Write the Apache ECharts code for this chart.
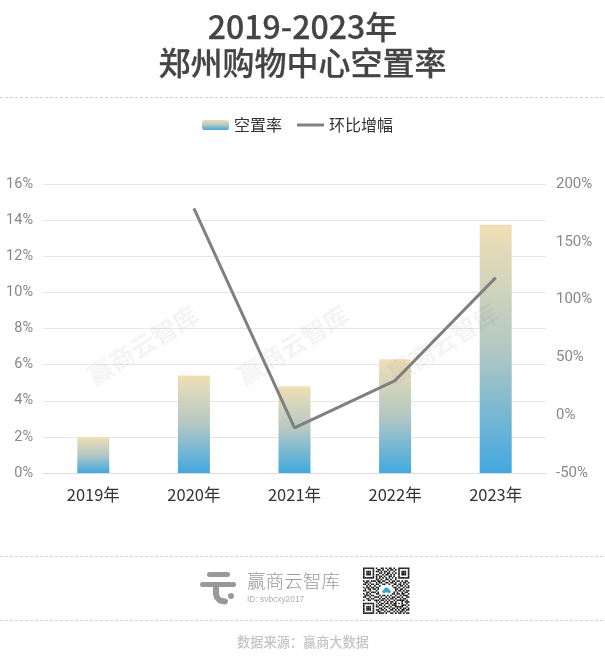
<!DOCTYPE html>
<html lang="zh-CN">
<head>
    <meta charset="UTF-8">
    <title>2019-2023年郑州购物中心空置率</title>
    <style>
        html, body { margin: 0; padding: 0; background: #ffffff; }
    </style>
</head>

<body>
<div id="main" style="height: 657px;width:605px;"></div>

<script src="https://cdn.jsdelivr.net/npm/echarts@6/dist/echarts.min.js"></script>
<script>
    var years = ['2019年', '2020年', '2021年', '2022年', '2023年'];
    var vacancy = [2.0, 5.4, 4.8, 6.3, 13.75];
    var growth = ['-', 179, -11, 30, 119];

    var titleLines = ['2019-2023年', '郑州购物中心空置率'];
    var source = '数据来源：赢商大数据';
    var brand = '赢商云智库';
    var brandId = 'ID: svbcxy2017';

    // decorative code block beside the brand name
    var qrRows = [
        '11111110100110101101001111111',
        '10000010011010010110101000001',
        '10111010110101101001001011101',
        '10111010001101011010101011101',
        '10111010110010110101001011101',
        '10000010101101001101001000001',
        '11111110101010101010101111111',
        '00000000110100110100100000000',
        '10110111011011001011011010110',
        '01101000101100110110100101101',
        '11010110110011001001101101010',
        '00101001001000000010010110101',
        '10110110110000000001101001011',
        '01011011010000000000110110100',
        '11001000100000000000101101011',
        '00110111010000000001010010110',
        '10101000110000000011011011001',
        '01110110001011010100100101110',
        '11001001110100101011011010011',
        '00110110001011010110100101100',
        '10011001110110101001011111010',
        '00000000101001010110100010111',
        '11111110010110110101101010010',
        '10000010101101001011100011101',
        '10111010110010110100111110010',
        '10111010001101001011010101101',
        '10111010110110100110101011011',
        '10000010011001011001010110100',
        '11111110101110100110101101011'
    ];

    var chart = echarts.init(document.querySelector('#main'));
    var cjk = '"Noto Sans CJK SC"';

    var graphics = [];

    function dashLine(y) {
        graphics.push({
            type: 'line',
            silent: true,
            shape: {x1: 0, y1: y, x2: 605, y2: y},
            style: {stroke: '#d4d4d4', lineWidth: 1, lineDash: [3, 2]}
        });
    }
    dashLine(97.5);
    dashLine(556.5);
    dashLine(620.5);

    titleLines.forEach(function (line, i) {
        graphics.push({
            type: 'text',
            silent: true,
            x: 302.5,
            y: 27 + i * 36,
            style: {
                text: line,
                fill: '#444444',
                stroke: '#444444',
                lineWidth: 0.25,
                font: '500 32px ' + cjk,
                align: 'center',
                verticalAlign: 'middle'
            }
        });
    });

    // watermarks over the plot
    [[143, 345], [293, 345], [443, 343]].forEach(function (p) {
        graphics.push({
            type: 'text',
            silent: true,
            z: 100,
            x: p[0],
            y: p[1],
            rotation: 32 * Math.PI / 180,
            style: {
                text: brand,
                fill: 'rgba(120,120,120,0.08)',
                font: 'bold 25px ' + cjk,
                align: 'center',
                verticalAlign: 'middle'
            }
        });
    });

    // brand logo
    graphics.push(
        {type: 'rect', silent: true, shape: {x: 207, y: 572, width: 23, height: 5, r: 2.5}, style: {fill: '#999999'}},
        {type: 'rect', silent: true, shape: {x: 200, y: 582, width: 36, height: 5, r: 2.5}, style: {fill: '#999999'}},
        {
            type: 'polyline',
            silent: true,
            shape: {points: [[216, 587], [216, 594], [217, 597.5], [220, 600.5], [225, 601.5]]},
            style: {stroke: '#999999', fill: null, lineWidth: 6, lineCap: 'round', lineJoin: 'round'}
        },
        {type: 'circle', silent: true, shape: {cx: 231, cy: 596, r: 3}, style: {fill: '#999999'}},
        {
            type: 'text',
            silent: true,
            x: 247,
            y: 581,
            style: {
                text: brand,
                fill: '#999999',
                font: '300 18.6px ' + cjk,
                verticalAlign: 'middle'
            }
        },
        {
            type: 'text',
            silent: true,
            x: 247,
            y: 600,
            style: {
                text: brandId,
                fill: '#b0b0b0',
                font: '8.4px "Liberation Sans"',
                verticalAlign: 'middle'
            }
        }
    );

    qrRows.forEach(function (row, r) {
        row.split('').forEach(function (c, k) {
            if (c === '1') {
                graphics.push({
                    type: 'rect',
                    silent: true,
                    shape: {x: 363 + k * 1.6, y: 567.5 + r * 1.6, width: 1.6, height: 1.6},
                    style: {fill: '#1a1a1a'}
                });
            }
        });
    });
    // small cloud in the middle of the code
    [[384, 591.5, 1.8], [386.5, 590, 2.5], [389, 591.5, 1.8]].forEach(function (c) {
        graphics.push({
            type: 'circle',
            silent: true,
            shape: {cx: c[0], cy: c[1], r: c[2]},
            style: {fill: '#3f9fd8'}
        });
    });

    graphics.push({
        type: 'text',
        silent: true,
        x: 303,
        y: 642,
        style: {
            text: source,
            fill: '#c4c4c4',
            font: '500 13.2px ' + cjk,
            align: 'center',
            verticalAlign: 'middle'
        }
    });

    var option = {
        animation: false,
        backgroundColor: '#ffffff',
        textStyle: {fontFamily: cjk},
        grid: {left: 43, right: 59, top: 184, bottom: 184, containLabel: false},
        legend: {
            top: 112,
            left: 197,
            itemWidth: 27,
            itemHeight: 10,
            itemGap: 15,
            textStyle: {color: '#333333', fontSize: 16, fontFamily: cjk},
            data: [
                {name: '空置率'},
                {name: '环比增幅', icon: 'path://M0,0 H27 V3 H0 Z'}
            ]
        },
        xAxis: {
            type: 'category',
            data: years,
            axisTick: {show: false},
            axisLine: {lineStyle: {color: '#dcdcdc', width: 1}},
            axisLabel: {color: '#333333', fontSize: 16.5, fontFamily: cjk, margin: 13}
        },
        yAxis: [{
            type: 'value',
            min: 0,
            max: 16,
            interval: 2,
            axisLine: {show: false},
            axisTick: {show: false},
            axisLabel: {
                formatter: '{value}%',
                color: '#888888',
                fontSize: 14.5,
                fontFamily: 'Roboto',
                margin: 10,
                padding: [3, 0, 0, 0]
            },
            splitLine: {lineStyle: {color: '#e6e6e6', width: 1}}
        }, {
            type: 'value',
            min: -50,
            max: 200,
            interval: 50,
            axisLine: {show: false},
            axisTick: {show: false},
            axisLabel: {
                formatter: '{value}%',
                color: '#888888',
                fontSize: 15,
                fontFamily: 'Roboto',
                margin: 10,
                padding: [3, 0, 0, 0]
            },
            splitLine: {show: false}
        }],
        series: [{
            name: '空置率',
            type: 'bar',
            barWidth: 32,
            data: vacancy,
            itemStyle: {
                color: new echarts.graphic.LinearGradient(0, 0, 0, 1, [{
                    offset: 0,
                    color: '#efdfb6'
                }, {
                    offset: 0.5,
                    color: '#b3c8c3'
                }, {
                    offset: 1,
                    color: '#42a8e0'
                }])
            }
        }, {
            name: '环比增幅',
            type: 'line',
            yAxisIndex: 1,
            symbol: 'none',
            data: growth,
            lineStyle: {color: '#808080', width: 3},
            itemStyle: {color: '#808080'}
        }],
        graphic: graphics
    };

    chart.setOption(option);
</script>

</body>
</html>
